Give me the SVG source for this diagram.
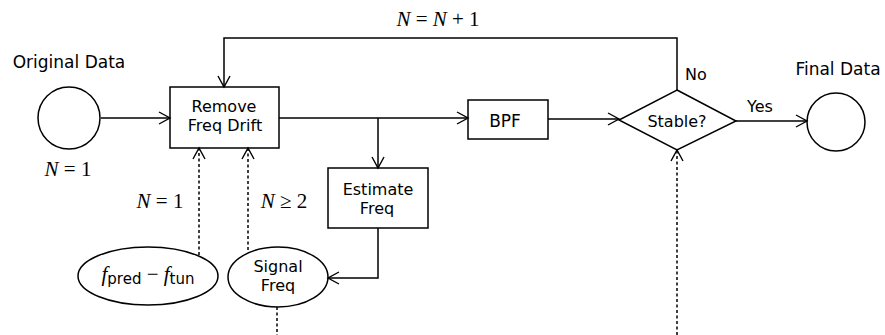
<svg xmlns="http://www.w3.org/2000/svg" width="885" height="335" viewBox="0 0 885 335">
<style>
.s{fill:none;stroke:#000;stroke-width:1.5}
.d{fill:none;stroke:#000;stroke-width:1.5;stroke-dasharray:3,2.5}
.t{font-family:"DejaVu Sans",sans-serif;font-size:16px;fill:#000;text-anchor:middle}
.h{font-size:17px}
.m{font-family:"Liberation Serif",serif;font-size:21px;fill:#000;text-anchor:middle}
.i{font-style:italic}
.sub{font-family:"DejaVu Sans",sans-serif;font-size:15px}
</style>
<defs>
<marker id="a" markerUnits="userSpaceOnUse" markerWidth="14" markerHeight="14" refX="11" refY="6" orient="auto" overflow="visible">
<path d="M0,0 L11,6 L0,12" fill="none" stroke="#000" stroke-width="1.4"/>
</marker>
</defs>
<rect width="885" height="335" fill="#fff"/>
<g id="connectors">
<path class="s" d="M101,118 H170" marker-end="url(#a)"/>
<path class="s" d="M279,118 H468" marker-end="url(#a)"/>
<path class="s" d="M378,118 V168" marker-end="url(#a)"/>
<path class="s" d="M378,228 V278 H328" marker-end="url(#a)"/>
<path class="s" d="M548,119 H619" marker-end="url(#a)"/>
<path class="s" d="M677,90 V38 H224 V87" marker-end="url(#a)"/>
<path class="s" d="M736,121 H807" marker-end="url(#a)"/>
<path class="d" d="M199,255 V148" marker-end="url(#a)"/>
<path class="d" d="M248,250 V148" marker-end="url(#a)"/>
<path class="d" d="M677,335 V150" marker-end="url(#a)"/>
<path class="d" d="M277,307 V335"/>
<text class="m" x="438" y="26"><tspan class="i">N</tspan> = <tspan class="i">N</tspan> + 1</text>
<text class="t" x="696" y="80">No</text>
<text class="t" x="760" y="112">Yes</text>
<text class="m" x="68" y="176"><tspan class="i">N</tspan> = 1</text>
<text class="m" x="160" y="208"><tspan class="i">N</tspan> = 1</text>
<text class="m" x="284" y="208"><tspan class="i">N</tspan> ≥ 2</text>
</g>
<g id="original">
<circle class="s" cx="69" cy="118" r="31"/>
<text class="t h" x="69" y="68">Original Data</text>
</g>
<g id="remove">
<rect class="s" x="170" y="87" width="109" height="61"/>
<text class="t" x="224" y="112">Remove</text>
<text class="t" x="225" y="131">Freq Drift</text>
</g>
<g id="bpf">
<rect class="s" x="468" y="100" width="80" height="39"/>
<text class="t h" x="505" y="127">BPF</text>
</g>
<g id="estimate">
<rect class="s" x="328" y="168" width="100" height="60"/>
<text class="t" x="378" y="195">Estimate</text>
<text class="t" x="377" y="214">Freq</text>
</g>
<g id="stable">
<polygon class="s" points="677,90 736,121 677,150 619,120"/>
<text class="t" x="677" y="127">Stable?</text>
</g>
<g id="final">
<circle class="s" cx="836" cy="122" r="29"/>
<text class="t h" x="838" y="75">Final Data</text>
</g>
<g id="fpred">
<ellipse class="s" cx="148" cy="276" rx="70" ry="29"/>
<text class="m" x="148" y="281"><tspan class="i">f</tspan><tspan class="sub" dy="3">pred</tspan><tspan dy="-3"> − </tspan><tspan class="i">f</tspan><tspan class="sub" dy="3">tun</tspan></text>
</g>
<g id="signal">
<ellipse class="s" cx="278" cy="277" rx="50" ry="30"/>
<text class="t" x="278" y="272">Signal</text>
<text class="t" x="278" y="291">Freq</text>
</g>
</svg>
